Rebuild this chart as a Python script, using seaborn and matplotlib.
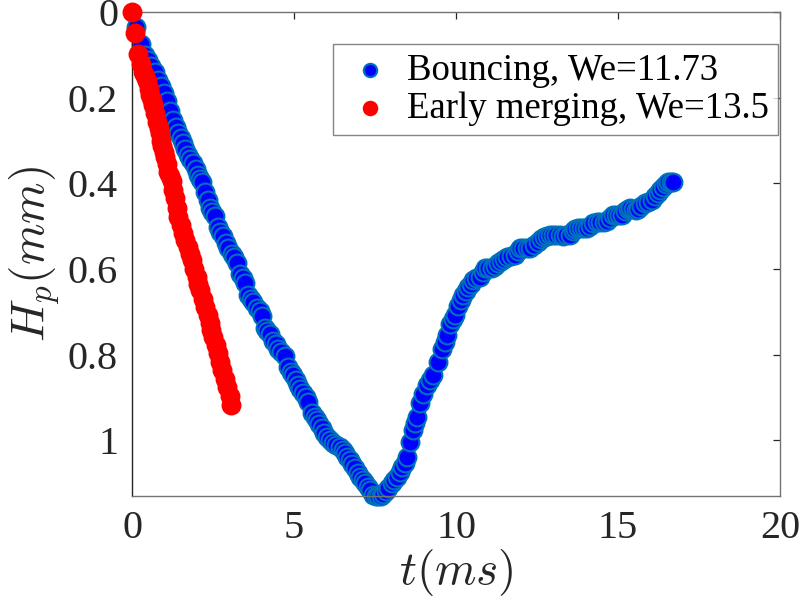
import numpy as np
import pandas as pd
import matplotlib
matplotlib.use("Agg")
import matplotlib.pyplot as plt
import seaborn as sns
from matplotlib.ticker import FuncFormatter

# Penetration depth H_p (mm) versus time t (ms)
bounce_t = [
    0.13, 0.27, 0.40, 0.50, 0.60, 0.70, 0.80, 0.90, 1.00, 1.08, 1.18, 1.27, 1.35, 1.42,
    1.50, 1.57, 1.65, 1.73, 1.80, 1.88, 1.96, 2.04, 2.10, 2.16, 2.25, 2.33, 2.41, 2.48,
    2.56, 2.65, 2.73, 2.81, 2.90, 2.96, 3.09, 3.16, 3.24, 3.33, 3.41, 3.49, 3.58, 3.66,
    3.73, 3.86, 3.94, 4.01, 4.10, 4.18, 4.26, 4.35, 4.43, 4.51, 4.60, 4.72, 4.81, 4.90,
    4.97, 5.05, 5.12, 5.20, 5.28, 5.36, 5.43, 5.56, 5.64, 5.71, 5.78, 5.86, 5.94, 6.02,
    6.10, 6.20, 6.30, 6.42, 6.50, 6.57, 6.65, 6.73, 6.80, 6.88, 6.96, 7.04, 7.12, 7.19,
    7.27, 7.35, 7.44, 7.52, 7.59, 7.67, 7.75, 7.83, 7.90, 8.02, 8.10, 8.18, 8.26, 8.33,
    8.41, 8.49, 8.58, 8.67, 8.74, 8.80, 8.89, 8.98, 9.10, 9.20, 9.29, 9.44, 9.57, 9.65,
    9.72, 9.81, 9.90, 9.97, 10.06, 10.14, 10.22, 10.30, 10.37, 10.45, 10.52, 10.62, 10.74,
    10.82, 10.90, 11.00, 11.11, 11.20, 11.30, 11.40, 11.48, 11.57, 11.70, 11.82, 11.90,
    11.98, 12.08, 12.18, 12.28, 12.40, 12.53, 12.62, 12.72, 12.80, 12.90, 13.00, 13.10,
    13.21, 13.30, 13.40, 13.52, 13.60, 13.68, 13.77, 13.86, 13.95, 14.04, 14.12, 14.22,
    14.35, 14.45, 14.56, 14.66, 14.75, 14.85, 14.95, 15.03, 15.12, 15.22, 15.30, 15.37,
    15.47, 15.55, 15.62, 15.72, 15.83, 15.93, 16.05, 16.15, 16.23, 16.31, 16.39, 16.47,
    16.54, 16.62, 16.70,
]
bounce_h = [
    0.035, 0.075, 0.100, 0.113, 0.125, 0.140, 0.158, 0.172, 0.189, 0.208, 0.232, 0.252, 0.268, 0.283,
    0.295, 0.305, 0.320, 0.334, 0.343, 0.352, 0.367, 0.381, 0.390, 0.398, 0.420, 0.440, 0.458, 0.466,
    0.476, 0.503, 0.513, 0.522, 0.540, 0.551, 0.564, 0.573, 0.585, 0.612, 0.622, 0.632, 0.660, 0.670,
    0.678, 0.690, 0.698, 0.709, 0.737, 0.744, 0.751, 0.767, 0.776, 0.786, 0.794, 0.802, 0.830, 0.840,
    0.848, 0.860, 0.871, 0.881, 0.890, 0.900, 0.911, 0.936, 0.945, 0.953, 0.962, 0.972, 0.982, 0.993,
    1.000, 1.006, 1.010, 1.016, 1.022, 1.029, 1.038, 1.047, 1.056, 1.065, 1.076, 1.086, 1.093, 1.100,
    1.109, 1.117, 1.127, 1.130, 1.131, 1.130, 1.125, 1.118, 1.112, 1.100, 1.093, 1.085, 1.075, 1.063,
    1.052, 1.040, 1.005, 0.977, 0.960, 0.946, 0.914, 0.892, 0.872, 0.860, 0.847, 0.818, 0.786, 0.770,
    0.755, 0.728, 0.716, 0.708, 0.686, 0.673, 0.661, 0.652, 0.643, 0.634, 0.626, 0.622, 0.618,
    0.607, 0.598, 0.598, 0.597, 0.592, 0.586, 0.582, 0.577, 0.572, 0.570, 0.567, 0.559,
    0.551, 0.551, 0.551, 0.550, 0.543, 0.537, 0.531, 0.525, 0.522, 0.521, 0.521, 0.521,
    0.521, 0.522, 0.521, 0.520, 0.512, 0.507, 0.505, 0.505, 0.505, 0.505, 0.499, 0.493,
    0.490, 0.490, 0.490, 0.489, 0.480, 0.474, 0.474, 0.474, 0.473, 0.465, 0.460, 0.458,
    0.459, 0.462, 0.461, 0.452, 0.446, 0.443, 0.438, 0.430, 0.422, 0.415, 0.408, 0.402,
    0.397, 0.396, 0.397,
]

merge_t = [
    0.00, 0.09, 0.19, 0.27, 0.34, 0.40, 0.46, 0.52, 0.56, 0.61, 0.65, 0.71, 0.77, 0.82,
    0.86, 0.90, 0.93, 0.98, 1.02, 1.07, 1.11, 1.17, 1.23, 1.28, 1.33, 1.38, 1.42, 1.50,
    1.57, 1.65, 1.73, 1.79, 1.85, 1.92, 2.00, 2.05, 2.10, 2.18, 2.25, 2.33, 2.41, 2.45,
    2.50, 2.58, 2.65, 2.72, 2.78, 2.86, 2.93, 3.01, 3.07,
]
merge_h = [
    0.000, 0.049, 0.097, 0.122, 0.140, 0.150, 0.160, 0.180, 0.194, 0.205, 0.217, 0.236, 0.256, 0.270,
    0.283, 0.300, 0.314, 0.327, 0.339, 0.356, 0.373, 0.384, 0.395, 0.415, 0.435, 0.458, 0.478, 0.497,
    0.515, 0.533, 0.549, 0.564, 0.579, 0.600, 0.619, 0.635, 0.650, 0.670, 0.689, 0.708, 0.727, 0.743,
    0.759, 0.778, 0.797, 0.817, 0.836, 0.856, 0.876, 0.897, 0.918,
]

labels = ["Bouncing, We=11.73", "Early merging, We=13.5"]
x_ticks = [0, 5, 10, 15, 20]
y_ticks = [0, 0.2, 0.4, 0.6, 0.8, 1.0]

sns.set_theme(style="white")
plt.rcParams["font.family"] = ["Liberation Serif", "DejaVu Serif"]
plt.rcParams["mathtext.fontset"] = "cm"

bounce = pd.DataFrame({"t": bounce_t, "H": bounce_h})
merge = pd.DataFrame({"t": merge_t, "H": merge_h})

fig = plt.figure(figsize=(8.03, 6.13), dpi=100)
ax = fig.add_axes([0.1644, 0.1909, 0.8070, 0.7895])

sns.scatterplot(data=bounce, x="t", y="H", ax=ax, s=165, color="#0000ff",
                edgecolor="#0072BD", linewidth=1.5, label=labels[0], zorder=2,
                clip_on=False)
sns.scatterplot(data=merge, x="t", y="H", ax=ax, s=165, color="#ff0000",
                edgecolor="#ff0000", linewidth=1.5, label=labels[1], zorder=3,
                clip_on=False)

ax.set_xlim(0, 20)
ax.set_ylim(1.13, 0)
ax.set_xticks(x_ticks)
ax.set_yticks(y_ticks)
ax.yaxis.set_major_formatter(FuncFormatter(lambda v, p: f"{v:g}"))
ax.tick_params(direction="in", length=5, width=0.9, colors="0.15",
               labelsize=29, top=True, right=True, pad=10)
for side, sp in ax.spines.items():
    sp.set_visible(True)
    sp.set_linewidth(1.0)
    sp.set_color("0.15" if side == "left" else "0.45")

ax.set_xlabel(r"$t(ms)$", fontsize=34, color="0.15", labelpad=0)
ax.set_ylabel(r"$H_p(mm)$", fontsize=34, color="0.15", labelpad=4)

leg = ax.legend(loc="upper right", bbox_to_anchor=(0.997, 0.934), borderaxespad=0,
                fontsize=26.5, frameon=True, fancybox=False, markerscale=0.75,
                handletextpad=0.25, borderpad=0.25, labelspacing=0.1, handlelength=1.5)
leg.get_frame().set_edgecolor("0.4")
leg.get_frame().set_linewidth(1.0)
for txt in leg.get_texts():
    txt.set_color("black")

fig.savefig("out.png", dpi=100, facecolor="white")
